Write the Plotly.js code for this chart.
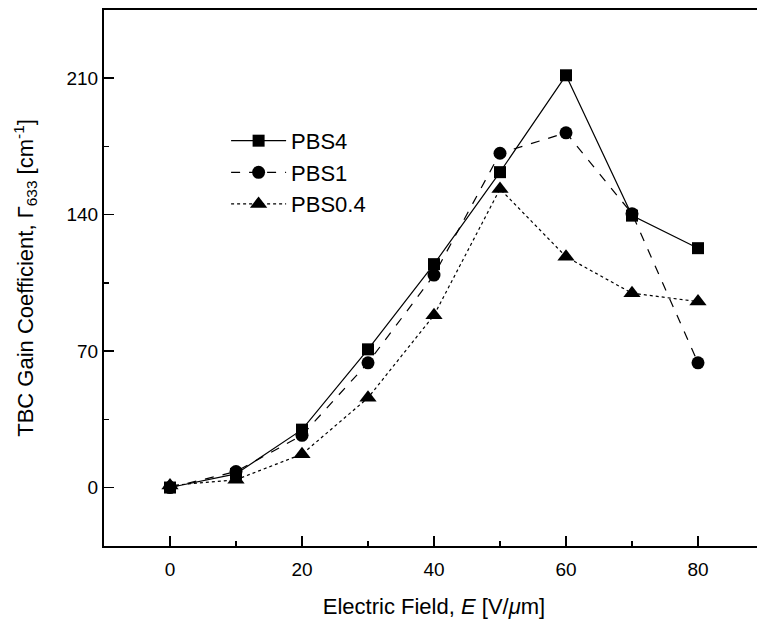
<!DOCTYPE html>
<html>
<head>
<meta charset="utf-8">
<script src="https://cdn.plot.ly/plotly-3.0.1.min.js"></script>
<style>
html,body{margin:0;padding:0;overflow:hidden;background:#fff;}
#chart{width:770px;height:621px;}
</style>
</head>
<body>
<div id="chart"></div>
<script>
const fieldE = [0, 10, 20, 30, 40, 50, 60, 70, 80];
const pbs4 = [0, 7, 29.7, 70.9, 114.6, 161.8, 211.5, 139.5, 122.8];
const pbs1 = [0, 8.2, 26.8, 64.0, 109.0, 171.5, 182.0, 140.5, 64.0];
const pbs04 = [1, 4, 17.1, 46.0, 88.4, 153.2, 118.4, 99.7, 95.4];
const seriesNames = ['PBS4', 'PBS1', 'PBS0.4'];
const xTicks = [0, 20, 40, 60, 80];
const yTicks = [0, 70, 140, 210];

const FONT = '"Liberation Sans", Arial, sans-serif';

function tr(name, y, symbol, dash, size) {
  return {
    x: fieldE, y: y, name: name, type: 'scatter', mode: 'lines+markers',
    line: {color: '#000', width: 1.2, dash: dash},
    marker: {symbol: symbol, size: size, color: '#000', line: {width: 0}}
  };
}

const data = [
  tr(seriesNames[0], pbs4, 'square', 'solid', 12),
  tr(seriesNames[1], pbs1, 'circle', 'dash', 13),
  tr(seriesNames[2], pbs04, 'triangle-up', 'dot', 15)
];

const axisCommon = {
  showgrid: false, zeroline: false, showline: true, linewidth: 2, linecolor: '#000',
  mirror: true, ticks: 'inside', ticklen: 10, tickwidth: 1.5, tickcolor: '#000',
  tickfont: {family: FONT, size: 19, color: '#000'}
};

const layout = {
  width: 770, height: 621,
  margin: {l: 104, r: 6, t: 10, b: 75},
  paper_bgcolor: '#fff', plot_bgcolor: '#fff',
  font: {family: FONT, color: '#000'},
  showlegend: true,
  legend: {
    x: 0.185, y: 0.795, xanchor: 'left', yanchor: 'top',
    font: {family: FONT, size: 22, color: '#000'},
    bgcolor: 'rgba(0,0,0,0)', itemwidth: 55, tracegroupgap: 0
  },
  xaxis: Object.assign({}, axisCommon, {
    range: [-10, 90], tickvals: xTicks, ticklabelstandoff: 5,
    minor: {dtick: 10, tick0: 0, ticks: 'inside', ticklen: 5, tickwidth: 1.5, tickcolor: '#000'},
    title: {text: 'Electric Field, <i>E</i> [V/<i>μ</i>m]', font: {family: FONT, size: 22, color: '#000'}, standoff: 20}
  }),
  yaxis: Object.assign({}, axisCommon, {
    range: [-30, 245], tickvals: yTicks,
    minor: {dtick: 35, tick0: 0, ticks: 'inside', ticklen: 5, tickwidth: 1.5, tickcolor: '#000'},
    title: {text: 'TBC Gain Coefficient, Γ<sub>633</sub> [cm<sup>-1</sup>]', font: {family: FONT, size: 22, color: '#000'}, standoff: 27}
  })
};

Plotly.newPlot('chart', data, layout, {displayModeBar: false, staticPlot: true});
</script>
</body>
</html>
